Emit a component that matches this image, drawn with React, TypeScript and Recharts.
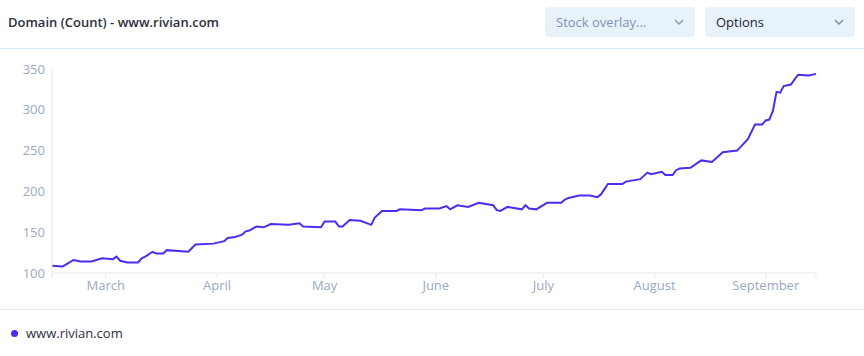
import React from 'react';
import { LineChart, Line, XAxis, YAxis } from 'recharts';

const dates = [
  '02-14', '02-17', '02-20', '02-22', '02-25', '02-28', '03-03', '03-04', '03-05', '03-07',
  '03-10', '03-11', '03-12', '03-14', '03-15', '03-17', '03-18', '03-24', '03-26', '03-31',
  '04-03', '04-04', '04-06', '04-08', '04-09', '04-10', '04-12', '04-14', '04-16', '04-21',
  '04-24', '04-25', '04-30', '05-01', '05-04', '05-05', '05-06', '05-08', '05-11', '05-14',
  '05-15', '05-17', '05-21', '05-22', '05-28', '05-29', '06-02', '06-04', '06-05', '06-07',
  '06-10', '06-13', '06-17', '06-18', '06-19', '06-21', '06-25', '06-26', '06-27', '06-29',
  '07-02', '07-06', '07-07', '07-08', '07-11', '07-14', '07-16', '07-17', '07-19', '07-23',
  '07-24', '07-28', '07-30', '07-31', '08-03', '08-04', '08-06', '08-07', '08-08', '08-11',
  '08-14', '08-17', '08-20', '08-24', '08-27', '08-29', '08-31', '09-01', '09-02', '09-03',
  '09-04', '09-05', '09-06', '09-08', '09-10', '09-13', '09-15',
];

const counts = [
  109, 108, 116, 114, 114, 118, 117, 120, 115, 113,
  113, 118, 120, 126, 124, 124, 128, 126, 135, 136,
  139, 143, 144, 147, 151, 152, 157, 156, 160, 159,
  161, 157, 156, 163, 163, 157, 157, 165, 164, 159,
  168, 176, 176, 178, 177, 179, 179, 182, 178, 183,
  181, 186, 183, 177, 176, 181, 178, 183, 179, 178,
  186, 186, 190, 192, 195, 195, 193, 196, 209, 209,
  212, 215, 223, 221, 224, 220, 220, 226, 228, 229,
  238, 236, 248, 250, 264, 282, 282, 287, 288, 299,
  322, 321, 329, 331, 343, 342, 344,
];

const monthTicks = ['03-01', '04-01', '05-01', '06-01', '07-01', '08-01', '09-01'];
const monthNames = ['January', 'February', 'March', 'April', 'May', 'June', 'July', 'August', 'September', 'October', 'November', 'December'];
const yTicks = [100, 150, 200, 250, 300, 350];

const toTime = (s: string) => {
  const [m, d] = s.split('-').map(Number);
  return Date.UTC(2022, m - 1, d);
};

const data = dates.map((d, i) => ({ t: toTime(d), value: counts[i] }));
const start = toTime(dates[0]);
const end = toTime(dates[dates.length - 1]);
const xTicks = [start, ...monthTicks.map(toTime), end];

const FONT = '"Open Sans", sans-serif';
const LINE = '#4b2cf0';
const AXIS = '#e3e9f0';
const TICK = '#98a9c3';

const Chevron = ({ color }: { color: string }) => (
  <svg width="10" height="6" style={{ position: 'absolute', right: 11, top: 12 }}>
    <polyline points="1,1 5,5 9,1" fill="none" stroke={color} strokeWidth="1.5" />
  </svg>
);

const boxStyle: React.CSSProperties = {
  position: 'absolute',
  top: 7,
  height: 30,
  background: '#e8f2fb',
  borderRadius: 4,
  fontSize: 13,
  lineHeight: '30px',
  boxSizing: 'border-box',
  paddingLeft: 11,
};

export default function App() {
  return (
    <div style={{ position: 'fixed', left: 0, top: 0, width: 864, height: 356, background: '#fff', fontFamily: FONT }}>
      <div style={{ position: 'absolute', left: 8, top: 13, fontSize: 13, fontWeight: 600, color: '#2b2f3b' }}>
        Domain (Count) - www.rivian.com
      </div>
      <div style={{ ...boxStyle, left: 545, width: 150, color: '#7f93b0' }}>
        Stock overlay...
        <Chevron color="#8a9bb5" />
      </div>
      <div style={{ ...boxStyle, left: 705, width: 150, color: '#1f2430', fontWeight: 500 }}>
        Options
        <Chevron color="#7f90a8" />
      </div>
      <div style={{ position: 'absolute', left: 0, top: 48, width: 864, height: 1, background: '#d4e6f5' }} />

      <div style={{ position: 'absolute', left: 0, top: 0 }}>
        <LineChart width={864} height={356} data={data} margin={{ top: 69, right: 48, bottom: 53, left: 8 }}>
          <XAxis
            dataKey="t"
            type="number"
            domain={[start, end]}
            ticks={xTicks}
            interval={0}
            tickFormatter={(v: number) => (v === start || v === end ? '' : monthNames[new Date(v).getUTCMonth()])}
            stroke={AXIS}
            tick={{ fill: TICK, fontSize: 13, fontFamily: FONT }}
            tickSize={5}
            tickMargin={3}
            height={30}
          />
          <YAxis
            domain={[100, 350]}
            ticks={yTicks}
            interval={0}
            width={44}
            stroke={AXIS}
            tickLine={false}
            tickSize={5}
            tickMargin={2}
            tick={{ fill: TICK, fontSize: 13, fontFamily: FONT }}
          />
          <Line type="linear" dataKey="value" stroke={LINE} strokeWidth={2} dot={false} isAnimationActive={false} />
        </LineChart>
      </div>

      <div style={{ position: 'absolute', left: 0, top: 309, width: 864, height: 1, background: '#e8edf2' }} />
      <div style={{ position: 'absolute', left: 11, top: 330, width: 7, height: 7, borderRadius: '50%', background: LINE }} />
      <div style={{ position: 'absolute', left: 26, top: 324, fontSize: 13, color: '#2b2f3b' }}>www.rivian.com</div>
    </div>
  );
}
